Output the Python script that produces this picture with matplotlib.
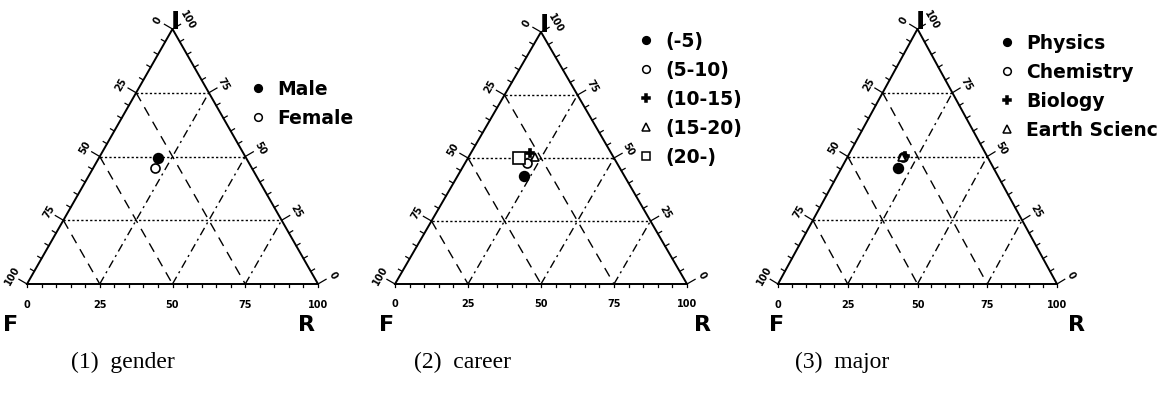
import numpy as np
import matplotlib
matplotlib.use('Agg')
import matplotlib.pyplot as plt
from matplotlib.lines import Line2D

# ternary compositions in percent (F, R, I) for each group
gender_groups = ['Male', 'Female']
gender_F = [30.3, 33.3]
gender_R = [20.3, 21.2]
gender_I = [49.4, 45.5]

career_groups = ['(-5)', '(5-10)', '(10-15)', '(15-20)', '(20-)']
career_F = [34.3, 30.8, 27.8, 26.9, 32.5]
career_R = [22.8, 21.2, 20.2, 22.7, 17.5]
career_I = [42.9, 48.0, 52.0, 50.4, 50.0]

major_groups = ['Physics', 'Chemistry', 'Biology', 'Earth Scienc']
major_F = [34.2, 30.3, 29.4, 30.6]
major_R = [20.3, 19.9, 20.4, 19.4]
major_I = [45.5, 49.8, 50.2, 50.0]

captions = ['(1)  gender', '(2)  career', '(3)  major']
tick_values = [0, 25, 50, 75, 100]
grid_values = [25, 50, 75]

# marker styles: (marker, facecolor, size)
styles = [('o', 'black', 7), ('o', 'white', 6.5), ('P', 'black', 6),
          ('^', 'white', 6), ('s', 'white', 8.5)]

W, H = 1168, 393
SQ3 = np.sqrt(3) / 2


def xy(R, I):
    R = np.asarray(R, float); I = np.asarray(I, float)
    return R + I / 2, I * SQ3


def edge_pt(edge, v):
    # point on an edge for the axis value v
    if edge == 'left':      # F axis, F = v
        return xy(0, 100 - v)
    if edge == 'right':     # I axis, I = v
        return xy(100 - v, v)
    return xy(v, 0)         # R axis


normals = {'left': (-SQ3, 0.5), 'right': (SQ3, 0.5), 'bottom': (0, -1)}
rotations = {'left': 60, 'right': -60, 'bottom': 0}


def draw_ternary(ax, F, R, I, groups, legend_xy):
    ax.set_xlim(-12, 112); ax.set_ylim(-25, 95)
    ax.axis('off')
    tri_x, tri_y = xy([0, 100, 0, 0], [0, 0, 100, 0])
    ax.plot(tri_x, tri_y, color='black', lw=1.4, solid_joinstyle='miter')

    for v in grid_values:
        x, y = xy([0, 100 - v], [v, v])
        ax.plot(x, y, color='black', lw=1.0, ls=(0, (1.6, 1.6)))
        x, y = xy([0, 100 - v], [100 - v, 0])
        ax.plot(x, y, color='black', lw=1.0, ls=(0, (7, 5)))
        x, y = xy([v, v], [0, 100 - v])
        ax.plot(x, y, color='black', lw=1.0, ls=(0, (6, 3, 1.5, 3)))

    for edge in ['left', 'right', 'bottom']:
        nx, ny = normals[edge]
        for v in range(0, 101, 5):
            px, py = edge_pt(edge, v)
            L = 3.2 if v % 25 == 0 else 1.5
            if edge == 'bottom':
                L = 1.0
            ax.plot([px, px + nx * L], [py, py + ny * L], color='black', lw=0.9)
        for v in tick_values:
            px, py = edge_pt(edge, v)
            off = 7.0 if edge == 'bottom' else 5.8
            ax.text(px + nx * off, py + ny * off, str(v), fontsize=7,
                    fontweight='bold', rotation=rotations[edge],
                    ha='center', va='center', clip_on=False)

    ax.text(51, 89, 'I', fontsize=18, fontweight='bold', ha='center',
            va='center', clip_on=False)

    handles = []
    x, y = xy(R, I)
    for k, g in enumerate(groups):
        m, fc, ms = styles[k]
        ax.plot(x[k], y[k], marker=m, mfc=fc, mec='black', ms=ms, mew=1.2,
                ls='none', zorder=5)
        handles.append(Line2D([], [], marker=m, mfc=fc, mec='black',
                              ms=min(ms, 6.5) * 0.85, mew=1.1, ls='none',
                              label=g))
    fig.legend(handles=handles, loc='upper left', frameon=False,
               bbox_to_anchor=(legend_xy[0] / W, 1 - legend_xy[1] / H),
               borderpad=0, borderaxespad=0, handlelength=1.0,
               handletextpad=0.5, labelspacing=0.53,
               prop={'weight': 'bold', 'size': 13.5})


fig = plt.figure(figsize=(W / 100, H / 100), dpi=100)

# pixel geometry of each triangle: base left, base right, base y, apex y
panels = [(27, 318, 284, 29), (395, 687, 284, 32), (778, 1057, 284, 29)]
legends = [(249, 80), (637, 32), (998, 34)]
data = [(gender_F, gender_R, gender_I, gender_groups),
        (career_F, career_R, career_I, career_groups),
        (major_F, major_R, major_I, major_groups)]
caption_x = [123, 462, 842]
vertex_F_x = [11, 387, 777]
vertex_R_x = [306, 702, 1077]

for (bl, br, by, ay), lg, (F, R, I, g), cx, cap, fx, rx in zip(
        panels, legends, data, caption_x, captions, vertex_F_x, vertex_R_x):
    sx = (br - bl) / 100
    sy = (by - ay) / (100 * SQ3)
    left = bl - 12 * sx
    bottom = H - (by + 25 * sy)
    ax = fig.add_axes([left / W, bottom / H, 124 * sx / W, 120 * sy / H])
    draw_ternary(ax, F, R, I, g, lg)
    fig.text(fx / W, 1 - 325 / H, 'F', fontsize=16, fontweight='bold',
             ha='center', va='center')
    fig.text(rx / W, 1 - 325 / H, 'R', fontsize=16, fontweight='bold',
             ha='center', va='center')
    fig.text(cx / W, 1 - 362 / H, cap, fontsize=17, family='Liberation Serif',
             ha='center', va='center')

fig.savefig('out.png', dpi=100)
